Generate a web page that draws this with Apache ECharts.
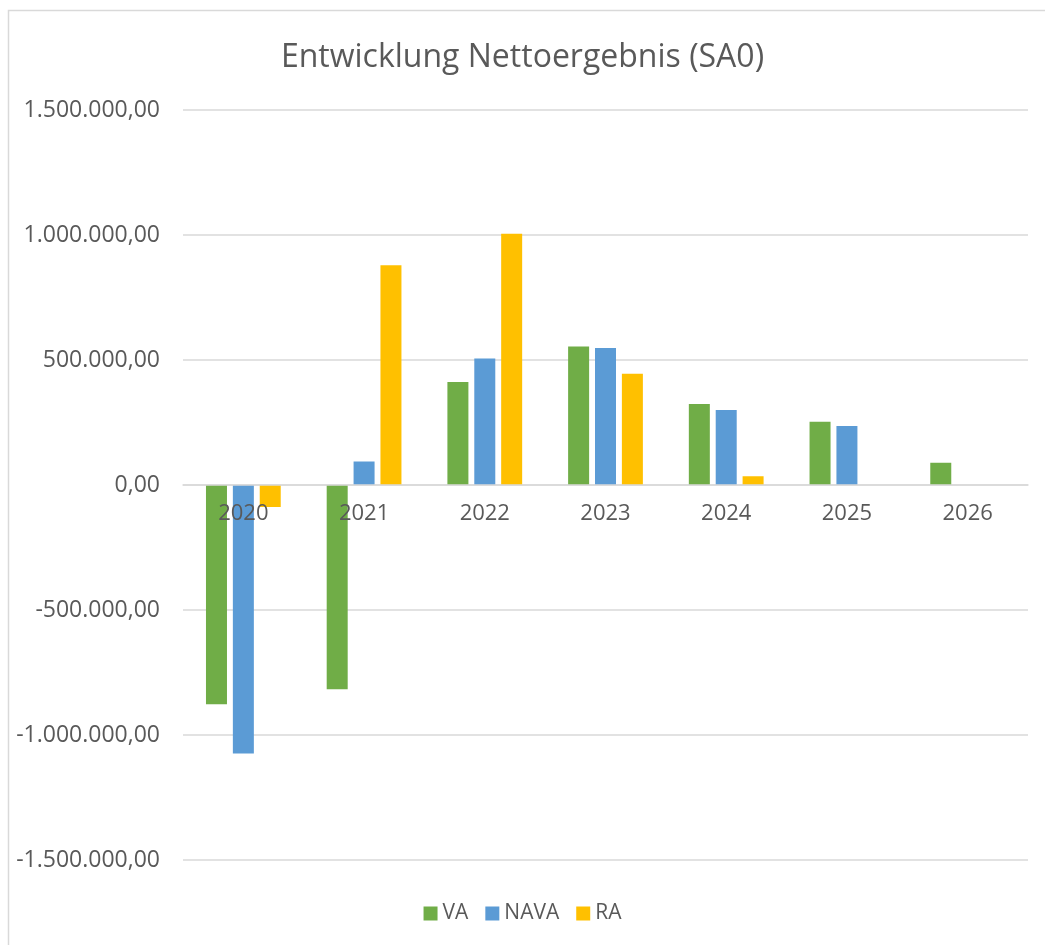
<!DOCTYPE html>
<html>
<head>
<meta charset="utf-8">
<script src="https://cdn.jsdelivr.net/npm/echarts@6/dist/echarts.min.js"></script>
<style>
  html, body { margin: 0; padding: 0; background: #fff; }
  #main { width: 1045px; height: 945px; }
</style>
</head>
<body>
<div id="main"></div>
<script>
var years = ['2020', '2021', '2022', '2023', '2024', '2025', '2026'];
var va = [-877000, -817000, 412000, 554000, 324000, 253000, 89000];
var nava = [-1074000, 94000, 506000, 548000, 300000, 236000, null];
var ra = [-88000, 879000, 1005000, 445000, 35000, null, null];
var yTicks = [-1500000, -1000000, -500000, 0, 500000, 1000000, 1500000];

var textColor = '#595959';
var fontName = '"Open Sans", "Noto Sans", sans-serif';
var gridTop = 110, gridBottom = 85, chartH = 945;

// Zahl im deutschen Format: 1.500.000,00
function formatDe(v) {
  var neg = v < 0;
  var s = Math.abs(Math.round(v)).toString();
  s = s.replace(/\B(?=(\d{3})+(?!\d))/g, '.');
  return (neg ? '-' : '') + s + ',00';
}

// Achse auf die Nulllinie schieben (Skala ist symmetrisch)
var plotH = chartH - gridTop - gridBottom;
var zeroOffset = -plotH * (0 - yTicks[0]) / (yTicks[yTicks.length - 1] - yTicks[0]);

var myChart = echarts.init(document.getElementById('main'));
var option = {
  backgroundColor: '#fff',
  animation: false,
  graphic: [{
    type: 'rect',
    shape: { x: 8.5, y: 10.5, width: 1100, height: 1000 },
    style: { fill: 'none', stroke: '#d9d9d9', lineWidth: 1.5 },
    silent: true
  }],
  title: {
    text: 'Entwicklung Nettoergebnis (SA0)',
    left: 'center',
    top: 37,
    textStyle: {
      color: textColor,
      fontFamily: fontName,
      fontWeight: 'normal',
      fontSize: 32
    }
  },
  legend: {
    bottom: 16,
    left: 'center',
    itemWidth: 14,
    itemHeight: 14,
    itemGap: 17,
    icon: 'rect',
    textStyle: { color: textColor, fontFamily: fontName, fontSize: 21 },
    data: ['VA', 'NAVA', 'RA']
  },
  grid: {
    left: 183,
    right: 17,
    top: gridTop,
    bottom: gridBottom,
    containLabel: false
  },
  xAxis: {
    type: 'category',
    data: years,
    offset: zeroOffset,
    axisLine: { onZero: false, lineStyle: { color: '#d9d9d9', width: 1.5 } },
    axisTick: { show: false },
    axisLabel: {
      color: textColor,
      fontFamily: fontName,
      fontSize: 22,
      margin: 18
    },
    z: 10
  },
  yAxis: {
    type: 'value',
    min: yTicks[0],
    max: yTicks[yTicks.length - 1],
    interval: 500000,
    axisLine: { show: false },
    axisTick: { show: false },
    splitLine: { lineStyle: { color: '#d9d9d9', width: 1.5 } },
    axisLabel: {
      color: textColor,
      fontFamily: fontName,
      fontSize: 23,
      margin: 23,
      formatter: formatDe
    }
  },
  series: [
    { name: 'VA', type: 'bar', data: va, barWidth: 21, barGap: '28%',
      itemStyle: { color: '#70ad47' } },
    { name: 'NAVA', type: 'bar', data: nava, barWidth: 21, barGap: '28%',
      itemStyle: { color: '#5b9bd5' } },
    { name: 'RA', type: 'bar', data: ra, barWidth: 21, barGap: '28%',
      itemStyle: { color: '#ffc000' } }
  ]
};
myChart.setOption(option);
</script>
</body>
</html>
